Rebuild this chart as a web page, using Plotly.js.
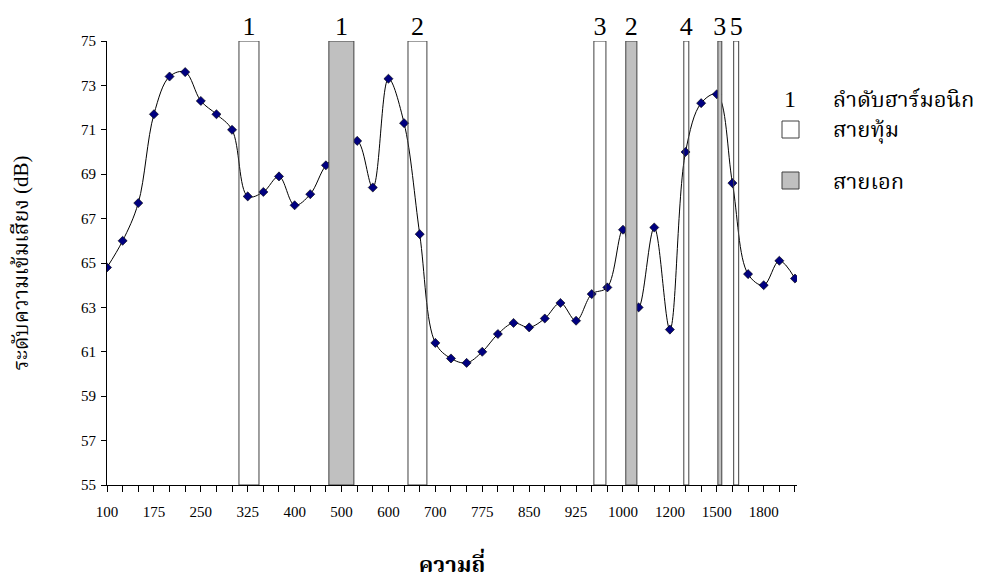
<!DOCTYPE html>
<html>
<head>
<meta charset="utf-8">
<script src="https://cdn.plot.ly/plotly-3.0.1.min.js"></script>
<style>
html,body{margin:0;padding:0;background:#fff;}
#chart{width:990px;height:584px;}
</style>
</head>
<body>
<div id="chart"></div>
<script>
// ---- data ----
var frequencies = ['100','125','150','175','200','225','250','275','300','325','350','375',
  '400','433','467','500','533','567','600','633','667','700','725','750','775','800','825',
  '850','875','900','925','950','975','1000','1067','1133','1200','1300','1400','1500','1600',
  '1700','1800','1900','2000'];
var labeledFrequencies = ['100','175','250','325','400','500','600','700','775','850','925',
  '1000','1200','1500','1800'];
var levels = [64.8, 66.0, 67.7, 71.7, 73.4, 73.6, 72.3, 71.7, 71.0, 68.0, 68.2, 68.9, 67.6, 68.1,
  69.4, 70.0, 70.5, 68.4, 73.3, 71.3, 66.3, 61.4, 60.7, 60.5, 61.0, 61.8, 62.3, 62.1, 62.5,
  63.2, 62.4, 63.6, 63.9, 66.5, 63.0, 66.6, 62.0, 70.0, 72.2, 72.6, 68.6, 64.5, 64.0, 65.1, 64.3];

// harmonic bands (in category-index units along the frequency axis)
var harmonicOrder = ['1','1','2','3','2','4','3','5'];
var harmonicString = ['low','high','low','low','high','low','high','low']; // low = สายทุ้ม, high = สายเอก
var bandStart = [8.44, 14.19, 19.25, 31.14, 33.18, 36.89, 39.07, 40.08];
var bandEnd   = [9.72, 15.79, 20.46, 31.91, 33.89, 37.21, 39.32, 40.40];
var bandBottom = 55, bandTop = 75;

var yTicks = [55,57,59,61,63,65,67,69,71,73,75];
var legendTexts = ['ลำดับฮาร์มอนิก', 'สายทุ้ม', 'สายเอก'];

// ---- layout helpers ----
var L = 107, R = 797, T = 41, B = 485;
function px(x){ return (x - L) / (R - L); }
function py(y){ return 1 - (y - T) / (B - T); }
var serif = 'Liberation Serif, Times New Roman, Noto Serif Thai, Noto Sans Thai, serif';

var xRange = [0, frequencies.length - 1 + 0.13];

var lineTrace = {
  type: 'scatter', mode: 'lines+markers',
  x: frequencies, y: levels,
  line: {color: '#000000', width: 1, shape: 'spline', smoothing: 1},
  marker: {symbol: 'diamond', size: 7, color: '#000080', line: {color: '#000000', width: 0.6}},
  xaxis: 'x', yaxis: 'y', hoverinfo: 'x+y', showlegend: false
};

var centers = [], widths = [], heights = [], bases = [], fills = [];
for (var i = 0; i < bandStart.length; i++) {
  centers.push((bandStart[i] + bandEnd[i]) / 2);
  widths.push(bandEnd[i] - bandStart[i]);
  heights.push(bandTop - bandBottom);
  bases.push(bandBottom);
  fills.push(harmonicString[i] === 'high' ? '#c0c0c0' : 'rgba(255,255,255,0)');
}
var barTrace = {
  type: 'bar', x: centers, y: heights, base: bases, width: widths,
  marker: {color: fills, line: {color: '#404040', width: 1}},
  xaxis: 'x2', yaxis: 'y', showlegend: false, hoverinfo: 'skip'
};
var tops = centers.map(function(){ return bandTop; });
var labelTrace = {
  type: 'scatter', mode: 'text', x: centers, y: tops, text: harmonicOrder,
  textposition: 'top center', cliponaxis: false,
  textfont: {family: serif, size: 26, color: '#000'},
  xaxis: 'x2', yaxis: 'y', showlegend: false, hoverinfo: 'skip'
};

var tickText = frequencies.map(function(f){ return labeledFrequencies.indexOf(f) >= 0 ? f : ''; });

var layout = {
  width: 990, height: 584,
  margin: {l: L, r: 990 - R, t: T, b: 584 - B, pad: 0},
  paper_bgcolor: '#fff', plot_bgcolor: '#fff',
  showlegend: false,
  bargap: 0,
  font: {family: serif, color: '#000', size: 14},
  xaxis: {
    type: 'category', range: xRange, autorange: false,
    tickmode: 'array', tickvals: frequencies, ticktext: tickText,
    ticks: 'outside', ticklen: 6, tickcolor: '#000', tickwidth: 1,
    ticklabelstandoff: 7,
    showline: true, linecolor: '#000', linewidth: 1,
    showgrid: false, zeroline: false, tickangle: 0,
    tickfont: {family: serif, size: 15, color: '#000'},
    title: {text: '<b>ความถี่</b>', font: {family: serif, size: 22, color: '#000'}, standoff: 37}
  },
  xaxis2: {
    type: 'linear', overlaying: 'x', range: xRange, autorange: false,
    visible: false, showgrid: false, zeroline: false
  },
  yaxis: {
    range: [55, 75], autorange: false,
    tickmode: 'array', tickvals: yTicks,
    ticks: 'outside', ticklen: 5, tickcolor: '#000', tickwidth: 1,
    ticklabelstandoff: 2,
    showline: true, linecolor: '#000', linewidth: 1,
    showgrid: false, zeroline: false,
    tickfont: {family: serif, size: 15, color: '#000'},
    title: {text: 'ระดับความเข้มเสียง (dB)', font: {family: serif, size: 21, color: '#000'}, standoff: 46}
  },
  shapes: [
    {type: 'rect', xref: 'paper', yref: 'paper', x0: px(782), x1: px(799), y0: py(138), y1: py(121),
     fillcolor: '#ffffff', line: {color: '#404040', width: 1}},
    {type: 'rect', xref: 'paper', yref: 'paper', x0: px(782), x1: px(799), y0: py(189), y1: py(172),
     fillcolor: '#c0c0c0', line: {color: '#404040', width: 1}}
  ],
  annotations: [
    {xref: 'paper', yref: 'paper', x: px(790), y: py(99), text: '1', showarrow: false,
     xanchor: 'center', yanchor: 'middle', font: {family: serif, size: 24, color: '#000'}},
    {xref: 'paper', yref: 'paper', x: px(831), y: py(99), text: legendTexts[0], showarrow: false,
     xanchor: 'left', yanchor: 'middle', font: {family: serif, size: 22, color: '#000'}},
    {xref: 'paper', yref: 'paper', x: px(831), y: py(130), text: legendTexts[1], showarrow: false,
     xanchor: 'left', yanchor: 'middle', font: {family: serif, size: 22, color: '#000'}},
    {xref: 'paper', yref: 'paper', x: px(831), y: py(181), text: legendTexts[2], showarrow: false,
     xanchor: 'left', yanchor: 'middle', font: {family: serif, size: 22, color: '#000'}}
  ]
};

Plotly.newPlot('chart', [lineTrace, barTrace, labelTrace], layout, {displayModeBar: false, staticPlot: true});
</script>
</body>
</html>
